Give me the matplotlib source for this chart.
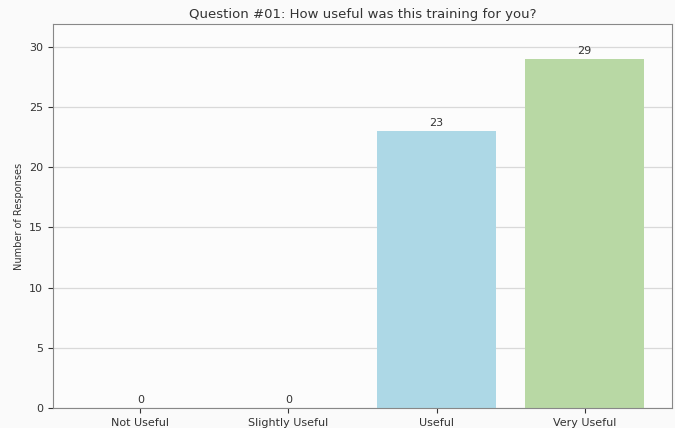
import matplotlib
matplotlib.use("Agg")
import matplotlib.pyplot as plt

categories = ["Not Useful", "Slightly Useful", "Useful", "Very Useful"]
counts = [0, 0, 23, 29]
colors = ["#f4a6a6", "#f9d59b", "#add8e6", "#b8d8a4"]

fig = plt.figure(figsize=(6.75, 4.28), dpi=100)
fig.patch.set_facecolor("#fafafa")
ax = fig.add_axes([53/675, 1 - 408/428, (672-53)/675, (408-24)/428])
ax.set_facecolor("#fcfcfc")
bars = ax.bar(categories, counts, color=colors, width=0.8, zorder=2)
ax.set_ylim(0, max(counts) * 1.1)
ax.yaxis.grid(True, color="#d9d9d9", linewidth=0.9, zorder=0)
ax.set_axisbelow(True)
for b, v in zip(bars, counts):
    ax.text(b.get_x() + b.get_width()/2, v + 0.25, str(v), ha="center", va="bottom",
            fontsize=8, color="#333333")
ax.set_title("Question #01: How useful was this training for you?", fontsize=9.5, color="#333333", pad=4)
ax.set_ylabel("Number of Responses", fontsize=7, color="#333333")
ax.tick_params(labelsize=8, colors="#333333")
for s in ax.spines.values():
    s.set_color("#888888")
fig.savefig("out.png", dpi=100, facecolor=fig.get_facecolor())
